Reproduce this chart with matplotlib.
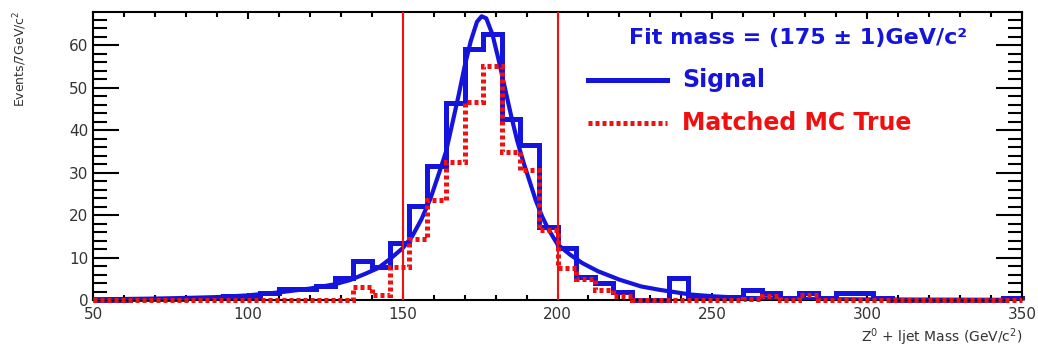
import numpy as np
import matplotlib
matplotlib.use('Agg')
import matplotlib.pyplot as plt
from matplotlib.ticker import MultipleLocator

# histogram binning (6 GeV bins from 50 to 350)
edges = np.arange(50, 351, 6)

signal = [0.2, 0.2, 0.4, 0.4, 0.4, 0.7, 0.7, 1.1, 1.1, 1.7,
          2.6, 2.6, 3.4, 5.4, 9.3, 7.8, 13.5, 22.3, 31.5, 46.4,
          59.0, 62.6, 42.7, 36.6, 17.3, 12.3, 5.6, 4.0, 2.1, 0.0,
          0.0, 5.2, 1.0, 0.9, 0.9, 2.5, 1.7, 0.5, 1.7, 0.5,
          1.7, 1.7, 0.5, 0.0, 0.0, 0.0, 0.0, 0.0, 0.0, 0.7]

matched = [0, 0, 0, 0, 0, 0, 0, 0, 0, 0,
           0, 0, 0, 0, 3.2, 1.3, 7.8, 14.5, 23.6, 32.6,
           46.7, 55.0, 35.0, 30.6, 16.5, 7.7, 5.0, 2.5, 1.0, 0,
           0, 0, 0, 0, 0, 0.3, 1.0, 0, 1.2, 0,
           0, 0, 0, 0, 0, 0, 0, 0, 0, 0]

# fit curve
fit_m = [50, 60, 70, 80, 90, 100, 110, 120, 128, 133, 138, 142, 146, 150,
         153, 156, 159, 162, 164, 166, 168, 170, 172, 174, 175.5, 177, 179,
         181, 183, 185, 187, 189, 191, 193, 195, 197, 200, 204, 208, 213,
         220, 227, 233, 243, 250, 260, 280, 300, 325, 350]
fit_v = [0.3, 0.35, 0.45, 0.6, 0.8, 1.2, 1.9, 2.8, 3.8, 4.8, 6.3, 7.6, 9.8, 12.3,
         15.0, 19.0, 24.0, 30.5, 35.0, 41.5, 48.0, 55.0, 61.0, 65.5, 66.8, 66.3, 62.5,
         56.5, 50.0, 43.5, 37.5, 32.5, 28.0, 23.5, 19.8, 16.8, 13.2, 10.8, 8.8, 6.9,
         4.9, 3.3, 2.5, 1.4, 1.0, 0.6, 0.35, 0.25, 0.2, 0.15]

window = [150, 200]

blue = '#1414dc'
red = '#f01010'

fig = plt.figure(figsize=(10.38, 3.48), dpi=100)
ax = fig.add_axes([0.0896, 0.1365, 0.895, 0.829])

ax.stairs(signal, edges, color=blue, lw=3.6, clip_on=False, zorder=2)
ax.plot(fit_m, fit_v, color=blue, lw=3.0, zorder=3)
ax.stairs(matched, edges, color=red, lw=3.6, ls=(0, (0.8, 0.6)), clip_on=False, zorder=4)
for xv in window:
    ax.axvline(xv, color=red, lw=1.5, zorder=5)

ax.set_xlim(50, 350)
ax.set_ylim(0, 67.8)
ax.xaxis.set_major_locator(MultipleLocator(50))
ax.xaxis.set_minor_locator(MultipleLocator(10))
ax.yaxis.set_major_locator(MultipleLocator(10))
ax.yaxis.set_minor_locator(MultipleLocator(2))
ax.tick_params(which='both', direction='in', top=True, right=True, width=1.5,
               labelsize=11, labelcolor='#333333')
ax.tick_params(axis='x', which='major', length=5, pad=5)
ax.tick_params(axis='x', which='minor', length=3.5)
ax.tick_params(axis='y', which='major', length=19)
ax.tick_params(axis='y', which='minor', length=10)
for s in ax.spines.values():
    s.set_linewidth(1.5)

# legend drawn by hand, ROOT style
ax.text(0.759, 0.909, 'Fit mass = (175 \u00b1 1)GeV/c\u00b2', transform=ax.transAxes,
        ha='center', va='center', color=blue, fontsize=16, fontweight='bold')
ax.plot([0.533, 0.618], [0.763, 0.763], transform=ax.transAxes, color=blue, lw=3.6)
ax.text(0.634, 0.763, 'Signal', transform=ax.transAxes, ha='left', va='center',
        color=blue, fontsize=17, fontweight='bold')
ax.plot([0.533, 0.618], [0.615, 0.615], transform=ax.transAxes, color=red, lw=3.6,
        ls=(0, (0.8, 0.6)))
ax.text(0.634, 0.615, 'Matched MC True', transform=ax.transAxes, ha='left', va='center',
        color=red, fontsize=17, fontweight='bold')

fig.text(0.019, 0.971, 'Events/7GeV/c$^2$', rotation=90, ha='center', va='top',
         fontsize=9, color='#333333')
fig.text(0.9846, 0.0316, 'Z$^0$ + ljet Mass (GeV/c$^2$)', ha='right', va='center',
         fontsize=10, color='#333333')

fig.savefig('out.png', dpi=100)
